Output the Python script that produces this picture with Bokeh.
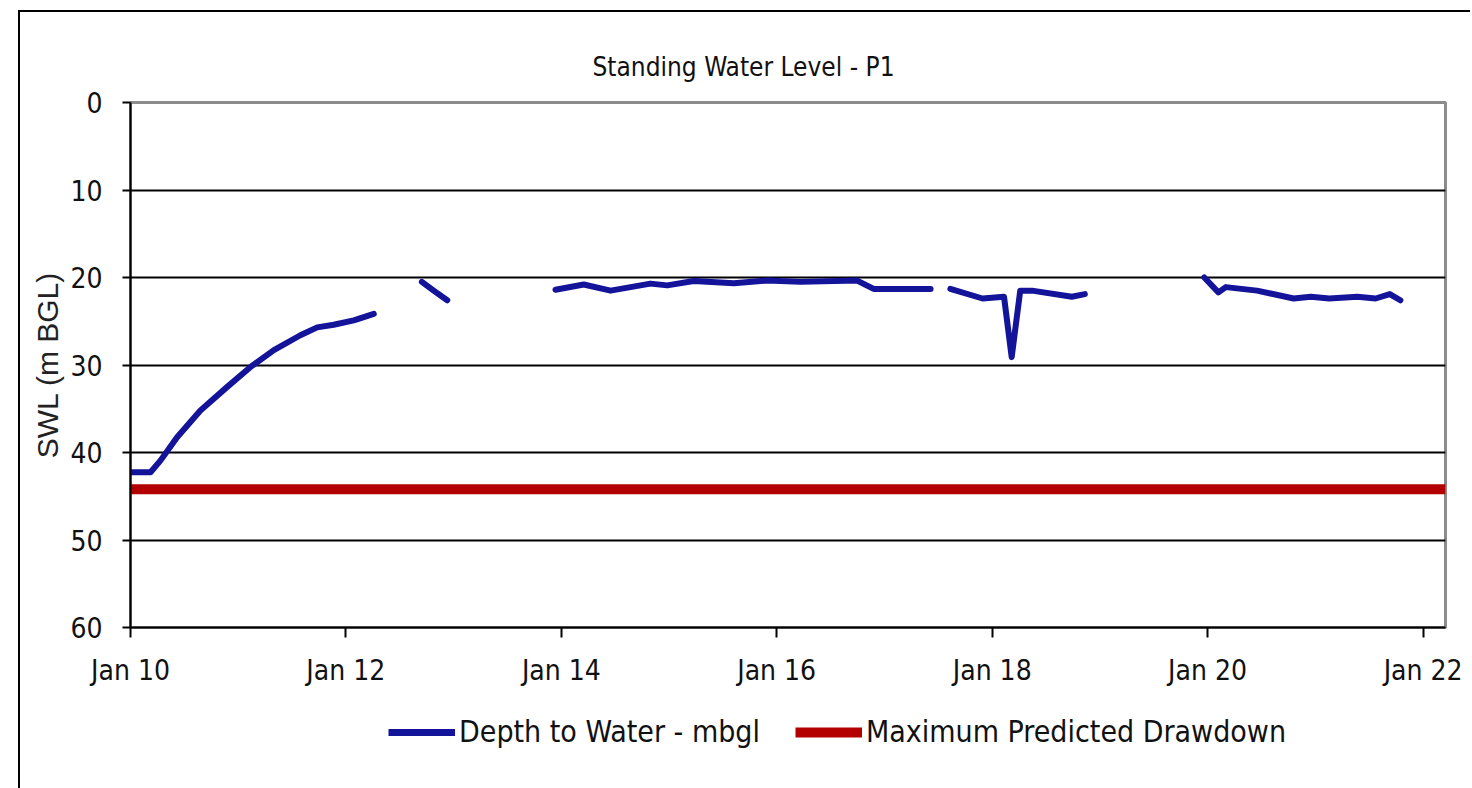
import numpy as np
import pandas as pd
from bokeh.plotting import figure
from bokeh.layouts import column
from bokeh.models import (Range1d, Legend, LegendItem, DatetimeTickFormatter,
                          FixedTicker, ColumnDataSource)
from bokeh.embed import file_html
from bokeh.resources import INLINE

# ---------------- data ----------------
title_text = "Standing Water Level - P1"
y_label = "SWL (m BGL)"
series_names = ["Depth to Water - mbgl", "Maximum Predicted Drawdown"]

obs_dates = [
    "2010-01-01", "2010-03-10", "2010-04-13", "2010-06-08", "2010-08-26", "2010-11-25",
    "2011-02-11", "2011-05-02", "2011-07-31", "2011-09-26", "2011-11-21", "2012-01-28",
    "2012-04-05",
    "2012-06-20",
    "2012-09-15", "2012-10-25", "2012-12-10",
    "2013-06-01",
    "2013-12-12", "2014-03-18", "2014-06-17", "2014-10-30", "2014-12-26", "2015-03-26",
    "2015-08-09", "2015-11-30", "2016-03-22", "2016-09-30", "2016-11-25", "2017-06-06",
    "2017-07-10",
    "2017-08-12", "2017-11-29", "2018-02-10", "2018-03-08", "2018-04-06", "2018-05-16",
    "2018-09-28", "2018-11-11",
    "2019-06-01",
    "2019-12-21", "2020-02-07", "2020-03-03", "2020-06-17", "2020-10-19", "2020-12-16",
    "2021-02-17", "2021-05-23", "2021-07-24", "2021-09-10", "2021-10-16",
]
obs_depth = [
    42.25, 42.25, 40.9, 38.25, 35.2, 32.5,
    30.25, 28.3, 26.6, 25.7, 25.4, 24.9,
    24.15,
    None,
    20.5, 21.5, 22.6,
    None,
    21.4, 20.8, 21.5, 20.7, 20.9, 20.4,
    20.65, 20.35, 20.5, 20.35, 21.3, 21.3,
    None,
    21.3, 22.4, 22.2, 29.1, 21.5, 21.5,
    22.2, 21.9,
    None,
    20.0, 21.7, 21.1, 21.5, 22.4, 22.2,
    22.4, 22.2, 22.4, 21.9, 22.6,
]

max_drawdown = 44.2
x_start, x_end = "2010-01-01", "2022-03-18"
y_ticks = [0, 10, 20, 30, 40, 50, 60]
x_tick_dates = ["2010-01-01", "2012-01-01", "2014-01-01", "2016-01-01",
                "2018-01-01", "2020-01-01", "2022-01-01"]

# ---------------- styling constants ----------------
NARROW = "DejaVu Sans Condensed"
REG = "Liberation Sans"
BLUE = "#14149a"
RED = "#b30000"

src = ColumnDataSource(dict(
    x=pd.to_datetime(obs_dates),
    y=np.array([np.nan if v is None else v for v in obs_depth], dtype=float),
))
dd_src = ColumnDataSource(dict(
    x=pd.to_datetime([x_start, x_end]),
    y=[max_drawdown, max_drawdown],
))

# ---------------- main chart ----------------
p = figure(width=1450, height=688, output_backend="svg", toolbar_location=None,
           x_axis_type="datetime",
           x_range=Range1d(pd.Timestamp(x_start), pd.Timestamp(x_end)),
           y_range=Range1d(60, 0),
           min_border_left=110, min_border_top=90, min_border_right=25,
           min_border_bottom=73)

p.background_fill_color = "white"
p.border_fill_color = "white"
p.outline_line_color = "#8c8c8c"
p.outline_line_width = 3

p.title.text = title_text
p.title.align = "left"
p.title.offset = 462
p.title.standoff = 42
p.title.text_font = NARROW
p.title.text_font_size = "26px"
p.title.text_font_style = "normal"
p.title.text_color = "#111111"

p.xgrid.visible = False
p.ygrid.grid_line_color = "black"
p.ygrid.grid_line_width = 2
p.ygrid.ticker = FixedTicker(ticks=y_ticks)

p.yaxis.ticker = FixedTicker(ticks=y_ticks)
p.yaxis.axis_label = y_label
p.yaxis.axis_label_text_font = REG
p.yaxis.axis_label_text_font_size = "30px"
p.yaxis.axis_label_text_font_style = "normal"
p.yaxis.axis_label_text_color = "#222222"
p.yaxis.axis_label_standoff = 3
p.yaxis.major_label_text_font = NARROW
p.yaxis.major_label_text_font_size = "28px"
p.yaxis.major_label_text_color = "#111111"
p.yaxis.major_label_standoff = 20
p.yaxis.major_tick_out = 8
p.yaxis.major_tick_in = 0
p.yaxis.minor_tick_out = 0
p.yaxis.minor_tick_in = 0
p.yaxis.axis_line_width = 2
p.yaxis.major_tick_line_width = 2

x_ticks_ms = [int(pd.Timestamp(d).value // 10**6) for d in x_tick_dates]
p.xaxis.ticker = FixedTicker(ticks=x_ticks_ms)
fmt = "%b %y"
p.xaxis.formatter = DatetimeTickFormatter(years=fmt, months=fmt, days=fmt, hours=fmt,
                                          hourmin=fmt, minutes=fmt, minsec=fmt,
                                          seconds=fmt, milliseconds=fmt,
                                          microseconds=fmt)
p.xaxis.major_label_text_font = NARROW
p.xaxis.major_label_text_font_size = "28px"
p.xaxis.major_label_text_color = "#111111"
p.xaxis.major_label_standoff = 16
p.xaxis.major_tick_out = 10
p.xaxis.major_tick_in = 0
p.xaxis.minor_tick_out = 0
p.xaxis.minor_tick_in = 0
p.xaxis.axis_line_width = 2
p.xaxis.major_tick_line_width = 2

p.line("x", "y", source=dd_src, line_color=RED, line_width=10)
p.line("x", "y", source=src, line_color=BLUE, line_width=6,
       line_join="round", line_cap="round")

# ---------------- legend strip ----------------
# same series drawn in a strip whose ranges hide them; only their legend shows
lg = figure(width=1450, height=88, output_backend="svg", toolbar_location=None,
            x_range=Range1d(0, 1), y_range=Range1d(0, 1), min_border=0)
lg.axis.visible = False
lg.grid.visible = False
lg.outline_line_color = None
lg.background_fill_color = "white"
lg.border_fill_color = "white"
lr_obs = lg.line("x", "y", source=src, line_color=BLUE, line_width=7)
lr_dd = lg.line("x", "y", source=dd_src, line_color=RED, line_width=10)

legend = Legend(items=[LegendItem(label=series_names[0], renderers=[lr_obs]),
                       LegendItem(label=series_names[1], renderers=[lr_dd])],
                orientation="horizontal", location=(258, 39))
legend.label_text_font = NARROW
legend.label_text_font_size = "30px"
legend.label_text_color = "#111111"
legend.glyph_width = 67
legend.glyph_height = 30
legend.label_standoff = 4
legend.spacing = 35
legend.padding = 0
legend.margin = 0
legend.border_line_alpha = 0
legend.background_fill_alpha = 0
lg.add_layout(legend, "center")

layout = column(p, lg, spacing=0)
layout.styles = {"margin-left": "18px", "margin-top": "10px",
                 "border-left": "2px solid black", "border-top": "2px solid black"}

open("out.html", "w").write(file_html(layout, INLINE))
